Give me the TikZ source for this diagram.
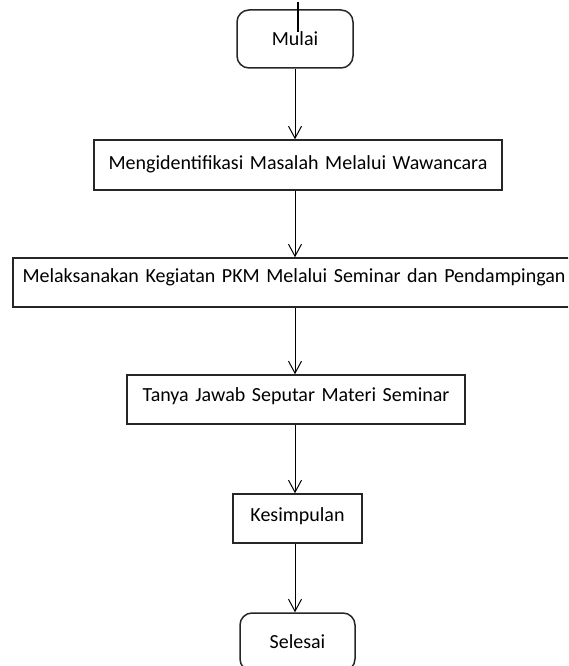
\documentclass[tikz,border=0pt]{standalone}
\usepackage{fontspec}
\setmainfont{Carlito}[WordSpace=1.45]
\usetikzlibrary{arrows.meta,positioning}

\begin{document}
\begin{tikzpicture}[
  x=1pt, y=-1pt,
  box/.style={draw=black!85, line width=1.5pt, fill=white, inner sep=0pt, font=\fontsize{20}{22}\selectfont},
  rbox/.style={box, rounded corners=12pt},
  flow/.style={draw, line width=1pt, -{Straight Barb[length=12pt,width=13pt,line width=1pt]}}
]
\useasboundingbox (0,0) rectangle (568,666);
\clip (0,0) rectangle (568,666);
\coordinate (spine) at (295,0);
\node[rbox, minimum width=116pt, minimum height=58pt] (mulai) at (295,39) {Mulai};
\node[box, minimum width=408pt, minimum height=50pt] (ident) at (298,165) {Mengidentifikasi Masalah Melalui Wawancara\strut};
\node[box, minimum width=562pt, minimum height=49pt, text depth=14pt] (laksana) at (294,282.5) {Melaksanakan Kegiatan PKM Melalui Seminar dan Pendampingan};
\node[box, minimum width=338pt, minimum height=49pt, text depth=9pt] (tanya) at (296,399.5) {Tanya Jawab Seputar Materi Seminar};
\node[box, minimum width=129pt, minimum height=49pt, text depth=7pt] (simpul) at (297.5,518.5) {Kesimpulan};
\node[rbox, minimum width=115pt, minimum height=58pt] (selesai) at (297.5,642) {Selesai};
\draw[line width=2.2pt] (298,2) -- (298,32);
\draw[flow] (spine |- mulai.south) -- (spine |- ident.north);
\draw[flow] (spine |- ident.south) -- (spine |- laksana.north);
\draw[flow] (spine |- laksana.south) -- (spine |- tanya.north);
\draw[flow] (spine |- tanya.south) -- (spine |- simpul.north);
\draw[flow] (spine |- simpul.south) -- (spine |- selesai.north);
\end{tikzpicture}
\end{document}
